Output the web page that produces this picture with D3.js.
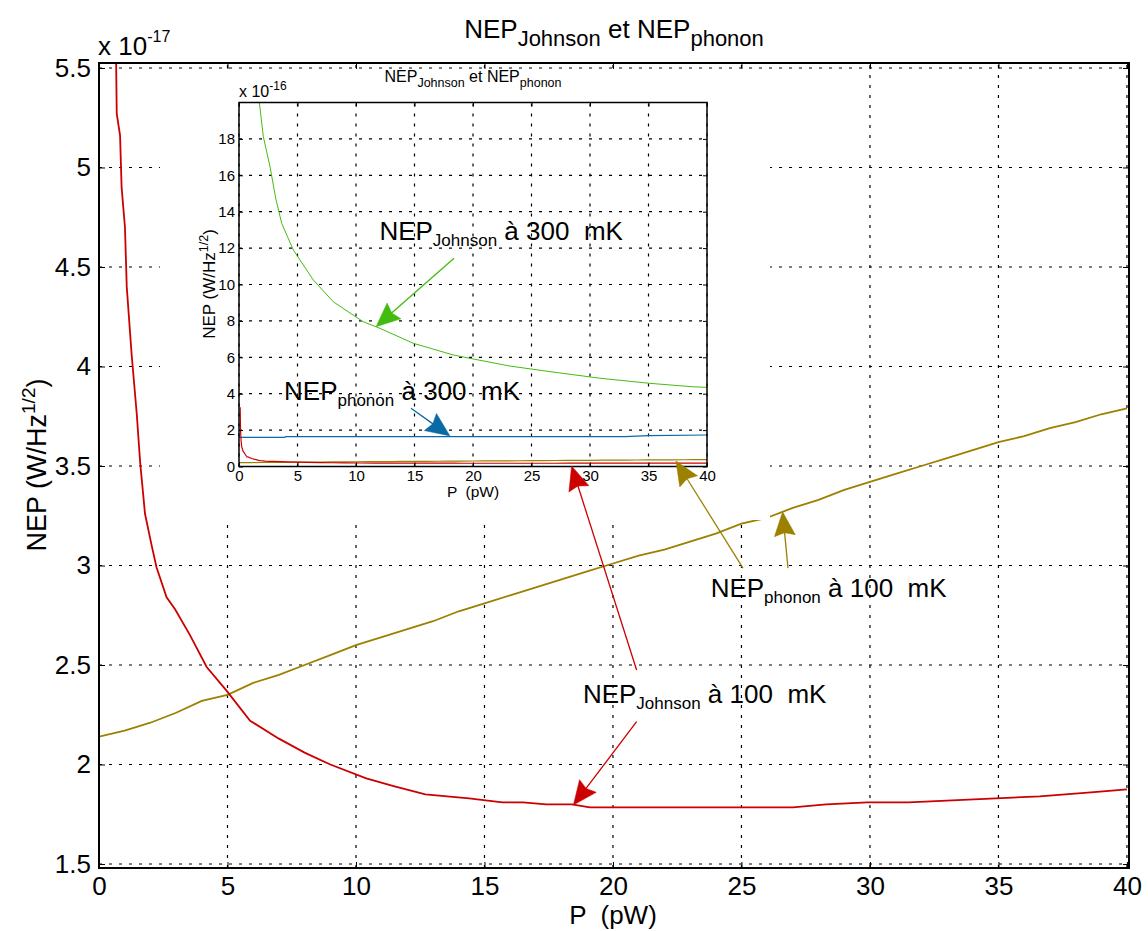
<!DOCTYPE html>
<html><head><meta charset="utf-8">
<script src="https://cdn.jsdelivr.net/npm/d3@7"></script>
<style>
body{margin:0;background:#fff;}
svg text{font-family:"Liberation Sans", Arial, Helvetica, sans-serif; white-space:pre; fill:#000;}
</style></head><body>
<svg id="chart" width="1148" height="931"></svg>
<script>
// ---------------- DATA ----------------
// NEP Johnson at 100 mK (units 1e-17 W/Hz^1/2)
const johnson100P   = [0.10,0.13,0.18,0.23,0.35,0.50,0.60,0.66,0.69,0.82,0.88,1.01,1.08,1.27,1.47,1.60,1.79,2.05,2.24,2.63,2.96,3.54,4.19,4.97,5.88,7.0,8.0,9.0,10.4,11.5,12.7,14.4,15.7,16.5,17.4,18.4,19.1,27.0,28.3,29.9,31.5,33.2,34.9,36.6,38.6,40.0];
const johnson100NEP = [32.5,20.0,14.0,10.9,8.4,7.0,6.0,5.6,5.27,5.16,4.90,4.70,4.40,4.06,3.76,3.52,3.26,3.10,2.99,2.84,2.78,2.65,2.49,2.37,2.22,2.13,2.06,2.00,1.93,1.89,1.85,1.83,1.81,1.81,1.80,1.80,1.785,1.785,1.80,1.81,1.81,1.82,1.83,1.84,1.86,1.875];
// NEP phonon at 100 mK (units 1e-17)
const phonon100P   = [0,1,2,3,4,5,6,7,8,9,10,11,12,13,14,15,16,17,18,19,20,21,22,23,24,25,26,27,28,29,30,31,32,33,34,35,36,37,38,39,40];
const phonon100NEP = [2.14,2.17,2.21,2.26,2.32,2.35,2.41,2.45,2.50,2.55,2.60,2.64,2.68,2.72,2.77,2.81,2.85,2.89,2.93,2.97,3.01,3.05,3.08,3.12,3.16,3.21,3.24,3.29,3.33,3.38,3.42,3.46,3.50,3.54,3.58,3.62,3.65,3.69,3.72,3.76,3.79];
// NEP Johnson at 300 mK (units 1e-16)
const johnson300P   = [1.50,1.74,2.08,2.65,3.15,3.65,4.64,6.35,8.06,10.6,12.05,14.9,18.3,20.0,23.15,26.6,30.85,35.1,38.8,40.0];
const johnson300NEP = [21.5,20.0,18.12,16.47,14.7,13.36,11.9,10.25,9.05,7.96,7.59,6.77,6.13,5.91,5.52,5.21,4.85,4.57,4.38,4.35];
// NEP phonon at 300 mK (units 1e-16)
const phonon300P   = [0,3.9,4.0,33,35,40];
const phonon300NEP = [1.60,1.60,1.64,1.64,1.70,1.73];

// tick labels
const mainXTicks  = [0,5,10,15,20,25,30,35,40];
const mainYTicks  = [1.5,2,2.5,3,3.5,4,4.5,5,5.5];
const insetXTicks = [0,5,10,15,20,25,30,35,40];
const insetYTicks = [0,2,4,6,8,10,12,14,16,18];

// colours
const colRed = "#cc0000", colOlive = "#9c8000", colGreen = "#44bb11", colBlue = "#0a6aa4";

// annotations (data coordinates)
const insetAnnotations = [
  {main:"NEP", sub:"Johnson", rest:" à 300  mK", P:12.0, v:12.45},
  {main:"NEP", sub:"phonon",  rest:" à 300  mK", P:3.85, v:3.65}
];
const insetArrows = [
  {color:colGreen, fromP:18.38, fromV:11.44, toP:11.71, toV:7.68},
  {color:colBlue,  fromP:14.70, fromV:3.20,  toP:18.03, toV:1.68}
];
const mainAnnotations = [
  {main:"NEP", sub:"phonon",  rest:" à 100  mK", P:23.8,  v:2.84},
  {main:"NEP", sub:"Johnson", rest:" à 100  mK", P:18.83, v:2.31}
];
const mainArrows = [
  {color:colRed,   fromP:20.92, fromV:2.475, toP:18.39, toV:3.50},
  {color:colRed,   fromP:20.92, fromV:2.215, toP:18.46, toV:1.796},
  {color:colOlive, fromP:25.06, fromV:2.987, toP:22.45, toV:3.525},
  {color:colOlive, fromP:26.81, fromV:2.987, toP:26.60, toV:3.27}
];

// ---------------- DRAW ----------------
const svg = d3.select("#chart");
const zip = (a,b) => a.map((d,i)=>[d,b[i]]);

const mx = d3.scaleLinear([0,40.08],[99,1129]);
const my = d3.scaleLinear([1.48,5.525],[868,63]);
const ix = d3.scaleLinear([0,40],[239,707]);
const iy = d3.scaleLinear([0,20],[466.5,102.5]);

const defs = svg.append("defs");
defs.append("clipPath").attr("id","clipMain").append("rect")
  .attr("x",99).attr("y",63).attr("width",1030).attr("height",805);
defs.append("clipPath").attr("id","clipInset").append("rect")
  .attr("x",239).attr("y",102.5).attr("width",468).attr("height",364);

function grid(g, xs, ys, xt, yt){
  const [x0,x1] = xs.range(), [y0,y1] = ys.range();
  g.selectAll(null).data(xt).join("line")
    .attr("x1",d=>xs(d)).attr("x2",d=>xs(d)).attr("y1",y0).attr("y2",y1)
    .attr("stroke","#000").attr("stroke-width",1.2).attr("stroke-dasharray","3,7");
  g.selectAll(null).data(yt).join("line")
    .attr("y1",d=>ys(d)).attr("y2",d=>ys(d)).attr("x1",x0).attr("x2",x1)
    .attr("stroke","#000").attr("stroke-width",1.2).attr("stroke-dasharray","3,7");
}

function axes(g, xs, ys, xt, yt, fs, tick, padX, padY, sw){
  const [x0,x1] = xs.range(), [y0,y1] = ys.range();
  const fmt = d3.format("~g");
  const b = g.append("g").attr("transform",`translate(0,${y0})`)
    .call(d3.axisBottom(xs).tickValues(xt).tickFormat(fmt).tickSizeInner(-tick).tickSizeOuter(0).tickPadding(padX));
  const l = g.append("g").attr("transform",`translate(${x0},0)`)
    .call(d3.axisLeft(ys).tickValues(yt).tickFormat(fmt).tickSizeInner(-tick).tickSizeOuter(0).tickPadding(padY));
  const t = g.append("g").attr("transform",`translate(0,${y1})`)
    .call(d3.axisTop(xs).tickValues(xt).tickFormat("").tickSizeInner(-tick).tickSizeOuter(0));
  const r = g.append("g").attr("transform",`translate(${x1},0)`)
    .call(d3.axisRight(ys).tickValues(yt).tickFormat("").tickSizeInner(-tick).tickSizeOuter(0));
  [b,l,t,r].forEach(a=>{
    a.select(".domain").remove();
    a.selectAll("line").attr("stroke","#000").attr("stroke-width",1);
    a.selectAll("text").attr("font-size",fs).attr("font-family",null);
    a.attr("font-family",null).attr("font-size",null);
  });
  g.append("rect").attr("x",x0).attr("y",y1).attr("width",x1-x0).attr("height",y0-y1)
    .attr("fill","none").attr("stroke","#000").attr("stroke-width",sw);
}

function richText(g, x, y, main, sub, rest, fs, subfs, dy, anchor){
  const t = g.append("text").attr("x",x).attr("y",y).attr("font-size",fs)
    .attr("text-anchor",anchor||"start");
  t.append("tspan").text(main);
  t.append("tspan").attr("font-size",subfs).attr("dy",dy).text(sub);
  t.append("tspan").attr("dy",-dy).text(rest);
  return t;
}

function arrow(g, x1, y1, x2, y2, color, hl, hw){
  const dx = x2-x1, dy = y2-y1, L = Math.hypot(dx,dy);
  const ux = dx/L, uy = dy/L;
  const bx = x2-ux*hl, by = y2-uy*hl;
  g.append("line").attr("x1",x1).attr("y1",y1).attr("x2",bx+ux*4).attr("y2",by+uy*4)
    .attr("stroke",color).attr("stroke-width",1.3);
  const px = -uy, py = ux;
  const nb = 3; // back notch
  g.append("path").attr("fill",color).attr("stroke",color).attr("stroke-width",0.5)
    .attr("d",`M${x2},${y2}L${bx+px*hw/2},${by+py*hw/2}L${bx+ux*nb},${by+uy*nb}L${bx-px*hw/2},${by-py*hw/2}Z`);
}

// ---- main axes ----
const gMain = svg.append("g");
grid(gMain, mx, my, mainXTicks, mainYTicks);
const line = (xs,ys) => d3.line().x(d=>xs(d[0])).y(d=>ys(d[1]));
const gCurves = gMain.append("g").attr("clip-path","url(#clipMain)");
gCurves.append("path").datum(zip(phonon100P,phonon100NEP))
  .attr("d",line(mx,my)).attr("fill","none").attr("stroke",colOlive).attr("stroke-width",1.8);
gCurves.append("path").datum(zip(johnson100P,johnson100NEP))
  .attr("d",line(mx,my)).attr("fill","none").attr("stroke",colRed).attr("stroke-width",1.8);
axes(gMain, mx, my, mainXTicks, mainYTicks, 26, 6, 9, 8, 2);

// main labels
richText(svg, 614, 38, "NEP", "Johnson", " et NEP", 26, 22, 8, "middle")
  .call(t=>t.append("tspan").attr("font-size",22).attr("dy",8).text("phonon"));
{
  const t = svg.append("text").attr("x",98).attr("y",55).attr("font-size",26);
  t.append("tspan").text("x 10");
  t.append("tspan").attr("font-size",16).attr("dy",-13).text("-17");
}
{
  const t = svg.append("text").attr("transform","translate(46,465) rotate(-90)")
    .attr("text-anchor","middle").attr("font-size",27);
  t.append("tspan").text("NEP (W/Hz");
  t.append("tspan").attr("font-size",19).attr("dy",-11).text("1/2");
  t.append("tspan").attr("dy",11).text(")");
}
svg.append("text").attr("x",613).attr("y",924).attr("text-anchor","middle")
  .attr("font-size",26).text("P  (pW)");

// ---- inset ----
const gInset = svg.append("g");
gInset.append("rect").attr("x",160).attr("y",71).attr("width",610).attr("height",449).attr("fill","#fff");
grid(gInset, ix, iy, insetXTicks, insetYTicks);
const gIC = gInset.append("g").attr("clip-path","url(#clipInset)");
gIC.append("path").datum(zip(johnson300P,johnson300NEP))
  .attr("d",line(ix,iy)).attr("fill","none").attr("stroke",colGreen).attr("stroke-width",1);
gIC.append("path").datum(zip(phonon300P,phonon300NEP))
  .attr("d",line(ix,iy)).attr("fill","none").attr("stroke",colBlue).attr("stroke-width",1.2);
gIC.append("path").datum(zip(phonon100P,phonon100NEP.map(v=>v/10)))
  .attr("d",line(ix,iy)).attr("fill","none").attr("stroke",colOlive).attr("stroke-width",1.2);
gIC.append("path").datum(zip(johnson100P,johnson100NEP.map(v=>v/10)))
  .attr("d",line(ix,iy)).attr("fill","none").attr("stroke",colRed).attr("stroke-width",1.2);
axes(gInset, ix, iy, insetXTicks, insetYTicks, 15, 4, 4, 4, 1.5);

richText(gInset, 473, 82, "NEP", "Johnson", " et NEP", 16, 12.5, 5, "middle")
  .call(t=>t.append("tspan").attr("font-size",12.5).attr("dy",5).text("phonon"));
{
  const t = gInset.append("text").attr("x",239).attr("y",97).attr("font-size",16);
  t.append("tspan").text("x 10");
  t.append("tspan").attr("font-size",12).attr("dy",-7).text("-16");
}
{
  const t = gInset.append("text").attr("transform","translate(215,284) rotate(-90)")
    .attr("text-anchor","middle").attr("font-size",17);
  t.append("tspan").text("NEP (W/Hz");
  t.append("tspan").attr("font-size",12.5).attr("dy",-7).text("1/2");
  t.append("tspan").attr("dy",7).text(")");
}
gInset.append("text").attr("x",473).attr("y",497).attr("text-anchor","middle")
  .attr("font-size",15.5).text("P  (pW)");

// ---- annotations ----
const gAnn = svg.append("g");
insetAnnotations.forEach(a=>richText(gAnn, ix(a.P), iy(a.v), a.main, a.sub, a.rest, 26, 17, 6));
insetArrows.forEach(a=>arrow(gAnn, ix(a.fromP), iy(a.fromV), ix(a.toP), iy(a.toV), a.color, 24, 21));
mainAnnotations.forEach(a=>richText(gAnn, mx(a.P), my(a.v), a.main, a.sub, a.rest, 26, 17, 6));
mainArrows.forEach(a=>arrow(gAnn, mx(a.fromP), my(a.fromV), mx(a.toP), my(a.toV), a.color, 24, 21));
</script>
</body></html>
